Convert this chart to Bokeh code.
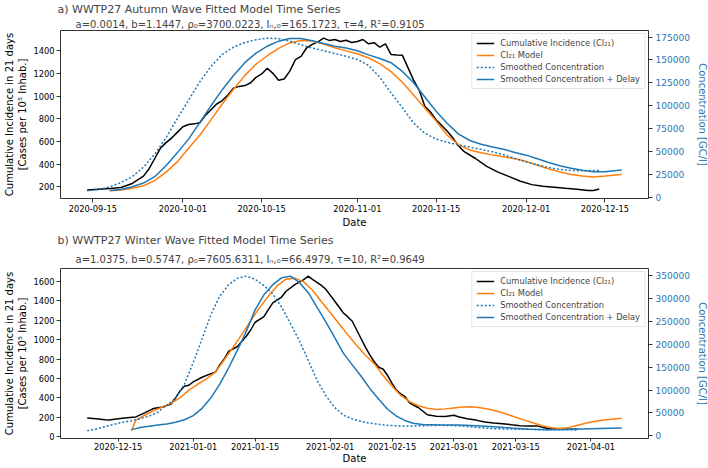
import pandas as pd
from bokeh.plotting import figure
from bokeh.layouts import column
from bokeh.models import (LinearAxis, DataRange1d, FixedTicker, SingleIntervalTicker,
                          DatetimeTickFormatter, NumeralTickFormatter, Legend, LegendItem, Title)
from bokeh.embed import file_html
from bokeh.resources import INLINE

FONT = "DejaVu Sans"
C_CI = "#000000"
C_MODEL = "#ff7f0e"
C_CONC = "#1f77b4"

legend_labels = ["Cumulative Incidence (CI\u2082\u2081)", "CI\u2082\u2081 Model",
                 "Smoothed Concentration", "Smoothed Concentration + Delay"]
ylabel_line1 = "Cumulative Incidence in 21 days"
ylabel_line2 = "[Cases per 10\u2075 Inhab.]"
ylabel_right = "Concentration [GC/l]"
xlabel = "Date"

# ---------------- a) autumn wave ----------------
a_title = "a) WWTP27 Autumn Wave Fitted Model Time Series"
a_params = "a=0.0014, b=1.1447, \u03c1\u2080=3700.0223, I\u2099,\u2080=165.1723, \u03c4=4, R\u00b2=0.9105"
a_xticks = ["2020-09-15", "2020-10-01", "2020-10-15", "2020-11-01", "2020-11-15", "2020-12-01", "2020-12-15"]

a_ci_dates = ["2020-09-14", "2020-09-16", "2020-09-18", "2020-09-20", "2020-09-22", "2020-09-24",
              "2020-09-25", "2020-09-26", "2020-09-27", "2020-09-28", "2020-09-29", "2020-09-30",
              "2020-10-01", "2020-10-02", "2020-10-03", "2020-10-04", "2020-10-05", "2020-10-06",
              "2020-10-07", "2020-10-08", "2020-10-09", "2020-10-10", "2020-10-11", "2020-10-12",
              "2020-10-13", "2020-10-14", "2020-10-15", "2020-10-16", "2020-10-17", "2020-10-18",
              "2020-10-19", "2020-10-20", "2020-10-21", "2020-10-22", "2020-10-23", "2020-10-24",
              "2020-10-25", "2020-10-26", "2020-10-27", "2020-10-28", "2020-10-29", "2020-10-30",
              "2020-10-31", "2020-11-01", "2020-11-02", "2020-11-03", "2020-11-04", "2020-11-05",
              "2020-11-06", "2020-11-07", "2020-11-08", "2020-11-09", "2020-11-10", "2020-11-11",
              "2020-11-12", "2020-11-13", "2020-11-14", "2020-11-15", "2020-11-16", "2020-11-17",
              "2020-11-18", "2020-11-19", "2020-11-20", "2020-11-22", "2020-11-24", "2020-11-26",
              "2020-11-28", "2020-11-30", "2020-12-02", "2020-12-04", "2020-12-06", "2020-12-08",
              "2020-12-10", "2020-12-12", "2020-12-13", "2020-12-14"]
a_ci = [172, 180, 185, 195, 230, 295,
        360, 450, 540, 590, 630, 680,
        730, 750, 755, 765, 830, 880, 930, 960, 1010, 1070,
        1085, 1092, 1115, 1165, 1195, 1245, 1200, 1140, 1150, 1220,
        1320, 1350, 1425, 1455, 1478, 1510, 1490, 1498, 1480, 1492, 1472,
        1480, 1498, 1460, 1470, 1430, 1460, 1365, 1362, 1360, 1250,
        1140, 1050, 910, 860, 790, 740, 690, 630, 560, 510,
        450, 380, 330, 290, 250,
        220, 205, 197, 188, 180, 168, 168, 182]

a_model_dates = ["2020-09-18", "2020-09-20", "2020-09-22", "2020-09-24", "2020-09-26", "2020-09-28",
                 "2020-09-30", "2020-10-02", "2020-10-04", "2020-10-06", "2020-10-08", "2020-10-10",
                 "2020-10-12", "2020-10-14", "2020-10-16", "2020-10-18", "2020-10-20", "2020-10-22",
                 "2020-10-24", "2020-10-26", "2020-10-28", "2020-10-30", "2020-11-01", "2020-11-03",
                 "2020-11-05", "2020-11-07", "2020-11-09", "2020-11-11", "2020-11-13", "2020-11-15",
                 "2020-11-17", "2020-11-19", "2020-11-21", "2020-11-23", "2020-11-25", "2020-11-27",
                 "2020-11-29", "2020-12-01", "2020-12-03", "2020-12-05", "2020-12-07", "2020-12-09",
                 "2020-12-11", "2020-12-13", "2020-12-15", "2020-12-18"]
a_model = [165, 172, 188, 210, 255, 330, 420,
           540, 655, 790, 930, 1060, 1180, 1280, 1355, 1420, 1468, 1490, 1484, 1458, 1425, 1398,
           1372, 1335, 1285, 1215, 1122, 1010, 895, 780, 655, 570, 525, 500, 482, 465, 448,
           425, 390, 360, 332, 310, 295, 288, 295,
           310]
a_delay = [7500, 8500, 11500, 15500, 22500, 34500, 48500,
           63500, 81500, 100000, 117500, 133000, 147000, 157500, 165000, 170500, 173500, 173500,
           171000, 168000, 165000, 163000,
           160000, 155500, 151500, 147000, 137500, 125000, 109500, 94000, 80500, 69000, 62000,
           58000, 55000, 52500, 49000,
           46000, 42000, 38000, 34500, 31700, 29500, 28000, 27800,
           29900]

a_conc_dates = ["2020-09-14", "2020-09-16", "2020-09-18", "2020-09-20", "2020-09-22", "2020-09-24",
                "2020-09-26", "2020-09-28", "2020-09-30", "2020-10-02", "2020-10-04", "2020-10-06",
                "2020-10-08", "2020-10-10", "2020-10-12", "2020-10-14", "2020-10-16", "2020-10-18",
                "2020-10-20", "2020-10-22", "2020-10-24", "2020-10-26", "2020-10-28", "2020-10-30",
                "2020-11-01", "2020-11-03", "2020-11-05", "2020-11-07", "2020-11-09", "2020-11-11",
                "2020-11-13", "2020-11-15", "2020-11-17", "2020-11-19", "2020-11-21", "2020-11-23",
                "2020-11-25", "2020-11-27", "2020-11-29", "2020-12-01", "2020-12-03", "2020-12-05",
                "2020-12-07", "2020-12-09", "2020-12-11", "2020-12-14"]
a_conc = [7000, 8500, 11500, 16000, 22500, 33000, 47000, 65000, 86000,
          106000, 126000, 143000, 156000, 164000, 169000, 172000, 173800, 173200, 170500, 166500,
          163000, 160000, 157000, 154000,
          150500, 144000, 131000, 114000, 98000, 81000, 70000, 63500, 60000, 57200, 54800, 52300,
          49700, 46500, 42500,
          38500, 35500, 32500, 30300, 29300, 28900,
          29200]

# ---------------- b) winter wave ----------------
b_title = "b) WWTP27 Winter Wave Fitted Model Time Series"
b_params = "a=1.0375, b=0.5747, \u03c1\u2080=7605.6311, I\u2099,\u2080=66.4979, \u03c4=10, R\u00b2=0.9649"
b_xticks = ["2020-12-15", "2021-01-01", "2021-01-15", "2021-02-01", "2021-02-15", "2021-03-01",
            "2021-03-15", "2021-04-01"]

b_ci_dates = ["2020-12-08", "2020-12-10", "2020-12-12", "2020-12-13", "2020-12-15", "2020-12-17",
              "2020-12-19", "2020-12-21", "2020-12-23", "2020-12-25", "2020-12-27", "2020-12-28",
              "2020-12-29", "2020-12-30", "2020-12-31",
              "2021-01-01", "2021-01-03", "2021-01-05", "2021-01-06", "2021-01-07", "2021-01-08",
              "2021-01-09", "2021-01-11", "2021-01-13", "2021-01-14", "2021-01-15", "2021-01-17",
              "2021-01-18", "2021-01-19", "2021-01-21", "2021-01-22", "2021-01-24", "2021-01-26",
              "2021-01-27", "2021-01-28", "2021-01-30", "2021-01-31",
              "2021-02-01", "2021-02-02", "2021-02-04", "2021-02-05", "2021-02-06", "2021-02-07",
              "2021-02-08", "2021-02-09", "2021-02-10", "2021-02-11", "2021-02-12", "2021-02-13",
              "2021-02-14", "2021-02-15", "2021-02-16", "2021-02-17", "2021-02-18", "2021-02-19",
              "2021-02-21", "2021-02-23", "2021-02-25", "2021-02-27",
              "2021-03-01", "2021-03-02", "2021-03-04", "2021-03-06", "2021-03-08", "2021-03-10",
              "2021-03-12", "2021-03-14", "2021-03-16", "2021-03-18", "2021-03-20", "2021-03-22",
              "2021-03-25", "2021-03-29"]
b_ci = [192, 185, 175, 172, 185, 195, 203, 245, 290, 305, 335, 400, 470, 520, 530,
        565, 612, 650, 663, 740, 800, 880, 930, 1035, 1100, 1180, 1238, 1310, 1380, 1440, 1500,
        1568, 1620, 1655, 1622, 1560, 1520,
        1460, 1400, 1275, 1235, 1190, 1100, 1010, 920, 840, 770, 715, 695, 630, 550, 480, 440,
        410, 345, 298, 225, 210, 207,
        220, 205, 185, 170, 150, 140, 133, 122, 112, 109, 108, 85, 75, 75]

b_model_dates = ["2020-12-18", "2020-12-19", "2020-12-21", "2020-12-23", "2020-12-25", "2020-12-27",
                 "2020-12-29", "2020-12-31",
                 "2021-01-02", "2021-01-04", "2021-01-06", "2021-01-08", "2021-01-10", "2021-01-12",
                 "2021-01-14", "2021-01-16", "2021-01-18", "2021-01-20", "2021-01-22", "2021-01-24",
                 "2021-01-26", "2021-01-28", "2021-01-30",
                 "2021-02-01", "2021-02-03", "2021-02-05", "2021-02-07", "2021-02-09", "2021-02-11",
                 "2021-02-13", "2021-02-15", "2021-02-17", "2021-02-19", "2021-02-21", "2021-02-23",
                 "2021-02-25", "2021-02-27",
                 "2021-03-01", "2021-03-03", "2021-03-05", "2021-03-07", "2021-03-09", "2021-03-11",
                 "2021-03-13", "2021-03-15", "2021-03-17", "2021-03-19", "2021-03-21", "2021-03-23",
                 "2021-03-25", "2021-03-27", "2021-03-29",
                 "2021-04-01", "2021-04-04", "2021-04-08"]
b_model = [60, 170, 220, 265, 305, 345, 400, 480,
           540, 595, 665, 790, 920, 1055, 1195, 1330, 1450, 1555, 1625, 1635, 1597, 1510, 1395,
           1280, 1165, 1050, 940, 840, 750, 630, 520, 425, 360, 318, 292, 280, 286,
           296, 305, 308, 298, 283, 258, 230, 200, 170, 140, 112, 92, 84, 95, 116,
           150, 171, 188]

b_delay_dates = ["2020-12-18", "2020-12-20", "2020-12-22", "2020-12-24", "2020-12-26", "2020-12-28",
                 "2020-12-30",
                 "2021-01-01", "2021-01-03", "2021-01-05", "2021-01-07", "2021-01-09", "2021-01-11",
                 "2021-01-13", "2021-01-15", "2021-01-17", "2021-01-19", "2021-01-21", "2021-01-23",
                 "2021-01-25", "2021-01-27", "2021-01-29", "2021-01-31",
                 "2021-02-02", "2021-02-04", "2021-02-06", "2021-02-08", "2021-02-10", "2021-02-12",
                 "2021-02-14", "2021-02-16", "2021-02-18", "2021-02-20", "2021-02-22", "2021-02-26",
                 "2021-03-02", "2021-03-06", "2021-03-10", "2021-03-14", "2021-03-18", "2021-03-22",
                 "2021-03-26", "2021-03-30", "2021-04-03", "2021-04-08"]
b_delay = [13500, 18000, 21000, 23500, 26000, 29500, 35000,
           44000, 60000, 83000, 113000, 148000, 187000, 228000, 275000, 308000, 330000, 345000,
           348500, 335000, 313000, 281000, 249000,
           215000, 180000, 155000, 130000, 103000, 80000, 58000, 43000, 33000, 27000, 24500, 23500,
           23500, 22200, 19600, 16800, 14500, 13500, 13800, 14900, 15900, 17100]

b_conc_dates = ["2020-12-08", "2020-12-10", "2020-12-12", "2020-12-14", "2020-12-16", "2020-12-18",
                "2020-12-20", "2020-12-22", "2020-12-24", "2020-12-26", "2020-12-28", "2020-12-30",
                "2021-01-01", "2021-01-03", "2021-01-05", "2021-01-07", "2021-01-09", "2021-01-11",
                "2021-01-13", "2021-01-15", "2021-01-17", "2021-01-19", "2021-01-21", "2021-01-23",
                "2021-01-25", "2021-01-27", "2021-01-29", "2021-01-31",
                "2021-02-02", "2021-02-04", "2021-02-06", "2021-02-08", "2021-02-10", "2021-02-12",
                "2021-02-14", "2021-02-18", "2021-02-22", "2021-02-26",
                "2021-03-02", "2021-03-06", "2021-03-10", "2021-03-14", "2021-03-18", "2021-03-22",
                "2021-03-26", "2021-03-29"]
b_conc = [11000, 15000, 20000, 25000, 29500, 33000, 37500, 43000, 51500, 67000, 82000, 113000,
          160000, 212000, 265000, 305000, 330000, 344000, 348500, 342000, 328000, 310000, 281000,
          245000, 208000, 165000, 122000, 88000,
          62000, 45000, 37000, 31500, 27500, 25000,
          22800, 21000, 22000, 23000,
          22000, 18500, 15500, 14600, 14300, 13500, 13200, 12800]


def style_axis(ax, color="#000000"):
    ax.axis_line_color = None
    ax.major_tick_line_color = "#000000"
    ax.major_tick_line_width = 0.8
    ax.major_tick_in = 0
    ax.major_tick_out = 4
    ax.minor_tick_line_color = None
    ax.major_label_text_font = FONT
    ax.major_label_text_font_size = "8.3px"
    ax.major_label_text_color = color
    ax.major_label_standoff = 2
    ax.axis_label_text_font = FONT
    ax.axis_label_text_font_size = "10px"
    ax.axis_label_text_font_style = "normal"
    ax.axis_label_text_color = color


def panel(title1, title2, xticks, ci_d, ci_v, mod_d, mod_v, conc_d, conc_v, del_d, del_v,
          left_step, right_step, top_b, frame_h, bottom_b, t1_std, t2_std, x_tick, x_std, x_lab_std):
    p = figure(x_axis_type="datetime", frame_width=588, frame_height=frame_h,
               min_border_left=52, min_border_right=60, min_border_top=top_b,
               min_border_bottom=bottom_b, output_backend="svg", toolbar_location=None,
               x_range=DataRange1d(range_padding=0.1), title=title1)
    p.title.text_font = FONT
    p.title.text_font_size = "11px"
    p.title.text_font_style = "normal"
    p.title.align = "left"
    p.title.offset = -3
    p.title.standoff = t1_std
    p.add_layout(Title(text=title2, align="left", offset=15, standoff=t2_std, text_font=FONT,
                       text_font_size="10px", text_font_style="normal"), "above")
    p.xgrid.visible = False
    p.ygrid.visible = False
    p.outline_line_color = "#333333"
    p.outline_line_width = 1
    p.border_fill_color = "white"
    p.background_fill_color = "white"

    r_ci = p.line(pd.to_datetime(ci_d), ci_v, line_color=C_CI, line_width=1.5)
    r_mod = p.line(pd.to_datetime(mod_d), mod_v, line_color=C_MODEL, line_width=1.5)
    p.y_range = DataRange1d(renderers=[r_ci, r_mod], range_padding=0.1)

    conc_range = DataRange1d(range_padding=0.1)
    p.extra_y_ranges = {"conc": conc_range}
    r_conc = p.line(pd.to_datetime(conc_d), conc_v, line_color=C_CONC, line_width=1.5,
                    line_dash="2 2", y_range_name="conc")
    r_del = p.line(pd.to_datetime(del_d), del_v, line_color=C_CONC, line_width=1.5,
                   y_range_name="conc")
    conc_range.renderers = [r_conc, r_del]

    xa = p.xaxis[0]
    xa.ticker = FixedTicker(ticks=[pd.Timestamp(t).value / 1e6 for t in xticks])
    xa.formatter = DatetimeTickFormatter(days="%Y-%m-%d", months="%Y-%m-%d", years="%Y-%m-%d")
    xa.axis_label = xlabel
    style_axis(xa)
    xa.major_tick_out = x_tick
    xa.major_label_standoff = x_std
    xa.axis_label_standoff = x_lab_std

    ya = p.yaxis[0]
    ya.ticker = SingleIntervalTicker(interval=left_step, num_minor_ticks=0)
    ya.axis_label = ylabel_line2
    style_axis(ya)
    ya.axis_label_standoff = 2

    outer = LinearAxis(axis_label=ylabel_line1, ticker=FixedTicker(ticks=[]))
    style_axis(outer)
    outer.major_tick_out = 0
    outer.major_label_standoff = 0
    outer.axis_label_standoff = 0
    p.add_layout(outer, "left")

    ra = LinearAxis(y_range_name="conc",
                    ticker=SingleIntervalTicker(interval=right_step, num_minor_ticks=0),
                    formatter=NumeralTickFormatter(format="0"), axis_label=ylabel_right)
    style_axis(ra, C_CONC)
    ra.major_label_text_font_size = "9px"
    ra.major_label_standoff = 3
    ra.axis_label_standoff = 4
    p.add_layout(ra, "right")

    leg = Legend(items=[LegendItem(label=legend_labels[0], renderers=[r_ci]),
                        LegendItem(label=legend_labels[1], renderers=[r_mod]),
                        LegendItem(label=legend_labels[2], renderers=[r_conc]),
                        LegendItem(label=legend_labels[3], renderers=[r_del])],
                 location="top_right")
    leg.label_text_font = FONT
    leg.label_text_font_size = "8.3px"
    leg.border_line_color = "#cccccc"
    leg.background_fill_alpha = 0.85
    leg.padding = 4
    leg.spacing = 2
    leg.margin = 3
    leg.glyph_width = 18
    leg.glyph_height = 10
    leg.label_height = 10
    leg.label_standoff = 6
    p.add_layout(leg)
    return p


pa = panel(a_title, a_params, a_xticks, a_ci_dates, a_ci, a_model_dates, a_model,
           a_conc_dates, a_conc, a_model_dates, a_delay, 200, 25000,
           29, 168, 30, 0, 2, 4, 2, 2)
pb = panel(b_title, b_params, b_xticks, b_ci_dates, b_ci, b_model_dates, b_model,
           b_conc_dates, b_conc, b_delay_dates, b_delay, 200, 50000,
           37, 170, 26, 3, 7, 3, 1, 0)

layout = column(pa, pb, spacing=0)
open("out.html", "w").write(file_html(layout, INLINE))
